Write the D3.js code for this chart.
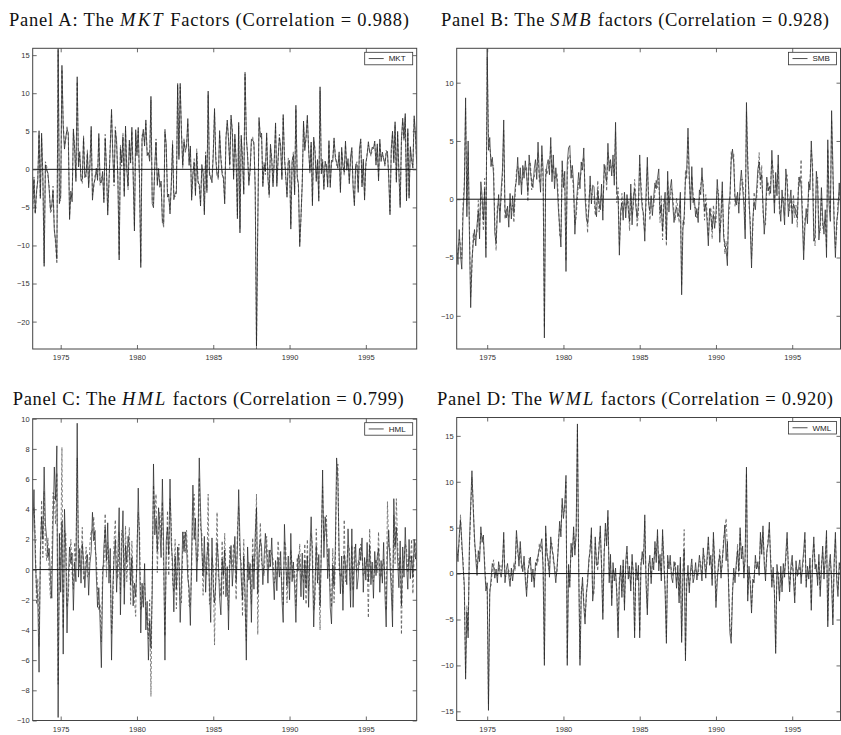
<!DOCTYPE html>
<html>
<head>
<meta charset="utf-8">
<script src="https://cdn.jsdelivr.net/npm/d3@7"></script>
<style>
body { margin: 0; background: #fff; }
svg { display: block; }
</style>
</head>
<body>
<script>
// tick labels
const yearTicks = [1975, 1980, 1985, 1990, 1995];
const mktTicks = [-20, -15, -10, -5, 0, 5, 10, 15];
const smbTicks = [-10, -5, 0, 5, 10];
const hmlTicks = [-10, -8, -6, -4, -2, 0, 2, 4, 6, 8, 10];
const wmlTicks = [-15, -10, -5, 0, 5, 10, 15];

// monthly returns, % (panels A and C start Feb 1973, panels B and D start Jan 1973)
const mktSolid = [
  -4.85, -1.30, -5.67, -2.87, -1.54, 5.07, -3.82, 4.75, -0.84, -12.75, 0.61,
  -0.17, -0.47, -2.81, -5.29, -4.68, -2.83, -8.05, -9.35, -11.77, 15.9, -4.51, -3.45,
  13.66, 5.56, 2.66, 4.23, 5.19, 4.83, -6.59, -2.85, -4.26, 5.31, 2.64, -1.60,
  12.16, 0.32, 2.32, -1.49, -1.34, 4.05, -1.09, -0.55, 2.08, -2.42, 0.36, 5.65,
  -4.05, -1.95, -1.37, 0.15, -1.45, 4.71, -1.69, -1.75, -0.27, -4.38, 4.00, 0.27,
  -6.01, -1.38, 2.85, 7.88, 1.76, -1.69, 5.11, 3.75, -1.43, -11.91, 2.71, 0.89,
  4.23, -3.56, 5.68, -0.06, -2.21, 3.85, 0.82, 5.53, -0.82, -8.10, 5.21, 1.79,
  5.51, -1.22, -12.90, 3.97, 5.26, 3.06, 6.49, 1.80, 2.19, 1.06, 9.59, -4.52,
  -5.04, 0.57, 3.56, -2.11, 0.11, -2.36, -1.54, -7.04, -7.17, 4.92, 3.35, -3.65,
  -3.24, -5.86, -1.87, 3.27, -3.99, -3.09, -3.19, 11.14, 1.29, 11.30, 4.67, 0.55,
  3.60, 2.59, 2.82, 6.67, 0.52, 3.07, -4.07, -0.50, 0.91, -3.44, 2.16, -1.78,
  -1.92, -4.82, 0.63, -0.51, -5.97, 1.82, -2.74, 10.28, -0.80, -0.84, -1.76, 1.84,
  7.99, 1.22, -0.84, -0.96, 5.09, 1.27, -0.74, -1.02, -4.54, 4.02, 6.48, 3.88,
  0.65, 7.13, 4.88, -1.31, 4.62, 0.93, -6.49, 6.17, -8.35, 4.48, 1.15, -3.27,
  12.47, 4.39, 1.64, -2.11, 0.11, 3.94, 3.85, 3.52, -2.59, -23.24, -7.77, 6.81,
  4.21, 4.75, -2.27, 0.56, -0.29, 4.79, -1.25, -3.31, 3.30, 1.15, -2.29, 1.49,
  6.10, -2.25, 1.51, 4.17, 3.15, -1.34, 7.20, 1.44, -0.76, -3.67, 1.03, 1.16,
  -7.85, 1.11, 1.83, -3.36, 8.42, -1.09, -1.90, -10.15, -6.12, -1.92, 6.35, 2.46,
  4.39, 7.10, 2.45, -0.13, 3.59, -4.78, 4.23, 2.32, -1.59, 1.29, -4.19, 10.84,
  -0.59, 0.93, -2.66, 1.07, 0.30, -2.34, 3.77, -2.38, 1.19, 1.02, 4.13, 1.53,
  0.93, 0.12, 2.30, -3.05, 2.89, 0.31, -0.34, 3.71, -0.12, 1.41, -1.89, 1.65,
  2.87, -2.55, -4.78, 0.68, 0.58, -3.03, 2.77, 4.01, -2.31, 1.34, -4.04, 0.86,
  1.80, 3.63, 2.19, 2.11, 2.90, 2.72, 3.72, 0.55, 3.35, -1.52, 3.96, 1.03,
  2.26, 1.33, 0.73, 2.06, 2.36, -1.14, -5.97, 2.77, 5.01, 0.86, 6.25, -1.70,
  4.99, -0.49, -5.02, 4.04, 6.72, 4.10, 7.33, -4.15, 5.35, -3.80, 2.98, 1.32,
  0.15, 7.04, 4.76, 0.73
];
const mktDashed = [
  -5.2, -1.0, -5.9, -3.3, -1.1, 4.6, -3.5, 4.2, -1.4, -12.3, 1.0,
  0.4, -0.9, -2.3, -5.8, -5.3, -2.2, -7.6, -9.9, -12.4, 15.6, -4.0, -4.1,
  13.1, 6.1, 3.2, 3.7, 5.7, 4.2, -6.1, -3.3, -3.7, 4.8, 3.1, -1.1,
  11.5, 0.9, 1.8, -1.0, -1.9, 4.5, -0.6, -1.0, 2.6, -2.0, 0.9, 5.1,
  -3.4, -2.5, -0.8, -0.4, -1.0, 4.2, -2.1, -1.2, -0.8, -3.9, 4.6, -0.3,
  -5.4, -1.9, 3.4, 7.3, 2.3, -2.2, 5.6, 3.2, -0.9, -11.3, 3.2, 0.4,
  4.8, -3.0, 5.1, 0.5, -2.7, 3.3, 1.3, 5.0, -0.3, -7.5, 4.7, 2.3,
  5.0, -1.8, -12.3, 4.5, 4.8, 3.6, 6.0, 2.4, 1.7, 1.6, 9.1, -4.0,
  -4.5, 0.1, 4.0, -1.6, -0.4, -1.8, -2.0, -6.5, -7.7, 5.4, 2.8, -3.1,
  -3.8, -5.3, -2.3, 3.8, -3.4, -3.6, -2.7, 11.3, 1.8, 10.8, 5.2, 0.1,
  4.1, 2.1, 3.3, 6.1, 1.0, 2.6, -3.6, -1.0, 1.4, -3.0, 2.7, -1.3,
  -2.4, -4.3, 0.1, -0.1, -5.5, 2.3, -3.2, 9.8, -0.3, -1.3, -1.2, 2.3,
  7.5, 1.7, -0.4, -1.4, 4.6, 1.8, -0.2, -1.5, -4.0, 4.5, 6.0, 4.3,
  0.1, 6.6, 5.3, -0.8, 4.1, 1.4, -6.0, 5.7, -7.8, 4.0, 1.6, -2.8,
  12.9, 3.9, 2.1, -1.6, -0.4, 3.5, 4.3, 3.0, -2.1, -23.6, -7.2, 6.3,
  4.7, 4.3, -1.8, 1.0, -0.7, 4.3, -0.8, -3.7, 2.8, 1.6, -1.8, 1.0,
  5.6, -1.8, 1.1, 4.6, 2.7, -0.9, 6.7, 1.9, -1.2, -3.2, 1.5, 0.7,
  -7.3, 0.7, 2.3, -2.9, 7.9, -0.6, -2.4, -9.7, -6.6, -1.4, 5.9, 2.9,
  3.9, 6.6, 2.9, -0.6, 3.1, -4.3, 3.8, 2.8, -1.1, 0.8, -3.7, 10.3,
  -0.1, 1.4, -2.2, 0.6, 0.8, -1.9, 3.3, -1.9, 0.7, 1.5, 3.7, 2.0,
  0.5, 0.6, 1.8, -2.6, 2.4, 0.8, -0.8, 3.2, 0.4, 0.9, -1.4, 1.2,
  2.4, -2.1, -4.3, 0.2, 1.0, -2.6, 2.3, 3.6, -1.9, 0.9, -3.6, 0.4,
  2.2, 3.2, 2.6, 1.7, 2.5, 3.1, 3.3, 1.0, 2.9, -1.1, 3.5, 1.5,
  1.8, 1.7, 0.3, 2.5, 1.9, -0.7, -5.5, 2.3, 4.6, 1.3, 5.8, -1.3,
  4.5, -0.1, -4.6, 3.6, 6.3, 3.7, 6.9, -3.7, 4.9, -3.4, 2.5, 0.9,
  0.6, 6.6, 4.3, 1.1
];

const smbSolid = [
  -3.9, -5.6, -2.6, -4.8, -6.0, -1.2, 0.8, 8.7, -1.5, 5.0, -3.0, -9.3,
  -5.2, -3.8, -2.6, -4.0, -2.2, -1.0, -3.4, 1.5, 0.3, -1.8, 0.9, -5.0,
  12.9, 4.2, 5.3, 2.8, 3.6, 2.1, -2.9, -3.8, -1.2, 0.4, -2.0, 0.8,
  2.5, 6.8, -0.9, -1.6, -0.6, -2.4, 0.5, -1.7, 0.3, -1.2, 1.0, 1.6,
  3.6, 1.2, 2.7, 0.4, 2.9, 1.8, 3.3, 2.0, 0.6, 3.8, 2.4, 1.5,
  1.0, 2.6, 3.4, 1.7, 4.9, 2.2, 0.6, 4.6, 2.5, -11.9, 1.8, 2.9,
  3.4, 2.1, 5.3, 1.5, 3.8, 0.9, 2.7, 1.4, -0.8, -2.3, -4.1, 3.3,
  1.0, 2.4, -6.2, 3.1, 4.4, 4.6, 1.8, 2.9, 1.3, -3.0, -0.7, 0.9,
  2.3, 0.9, 3.2, 2.5, 4.4, 0.2, -1.6, -2.1, -0.9, 2.0, -0.4, 1.2,
  1.1, -0.6, -1.5, 0.8, -0.3, -0.9, 1.3, -1.8, 3.0, 2.1, 1.5, 4.8,
  2.4, 3.4, 2.0, 3.8, 1.2, 6.6, 0.5, 0.2, -4.8, -1.0, -0.3, -1.8,
  0.6, -1.6, 0.4, -0.9, -1.9, 1.3, -2.2, 0.2, 0.9, -0.7, -1.6, -0.3,
  3.8, 0.6, -0.8, -1.2, -3.6, 0.5, 3.6, -0.4, -1.0, 0.3, -1.4, 0.2,
  1.4, 0.9, 1.8, 2.6, -1.2, -0.5, -2.7, -0.8, 0.6, -3.5, 2.4, -1.1,
  0.9, 1.7, -0.4, -2.0, -1.0, -0.7, -1.5, -1.2, 0.6, -8.2, -2.6, -1.4,
  1.7, 2.5, 6.1, 2.2, -0.9, 2.8, -0.3, 0.1, -1.5, -0.8, -2.0, 0.8,
  0.4, 2.7, 0.6, -1.0, -0.4, -1.9, -4.0, -0.8, -1.5, -2.6, -1.3, -2.5,
  -1.2, 1.7, -0.1, -3.7, -1.1, 1.5, -3.2, -3.9, -4.4, -5.7, -0.6, 0.3,
  3.3, 4.3, 3.1, 0.2, -0.5, 0.6, -1.2, 1.3, 2.5, 0.9, -0.5, -3.4,
  8.3, 2.9, 0.3, -2.6, -5.9, -1.8, -0.2, -0.9, 0.8, 2.6, 3.2, 1.7,
  2.1, -0.4, -3.0, -1.4, 1.9, 0.7, 1.1, 0.5, 4.2, 1.7, -1.2, 2.3,
  0.3, 3.8, -0.5, -1.9, 0.8, -0.6, -2.2, 2.6, 1.3, -1.5, -0.2, 0.8,
  -2.1, -0.4, -0.8, -1.3, -1.6, 1.1, 1.9, 1.3, -1.7, -5.2, -2.4, -0.8,
  -2.1, 1.5, 0.8, 5.0, 2.3, -3.6, -3.2, 2.4, 1.1, -3.5, -2.1, 1.0,
  -1.7, -3.0, -0.9, -5.0, 5.1, -0.5, -1.9, 7.6, 2.9, -2.3, -5.0, -1.9,
  -1.1, 1.4, -0.6
];
const smbDashed = [
  -4.8, -4.6, -3.4, -3.9, -5.1, -0.3, 1.4, 7.8, -0.6, 4.1, -2.2, -8.4,
  -6.0, -2.9, -3.5, -3.1, -2.9, -0.1, -2.6, 0.7, -0.5, -2.7, 1.8, -4.2,
  12.2, 5.0, 4.4, 3.5, 2.9, 2.9, -2.1, -4.4, -0.4, -0.4, -1.1, 0.1,
  1.8, 5.9, -1.7, -0.8, -1.3, -1.6, -0.3, -0.9, -0.5, -2.0, 0.3, 2.4,
  2.8, 2.0, 1.9, 1.2, 2.1, 2.7, 2.5, 2.8, -0.2, 3.0, 3.2, 0.8,
  1.8, 1.9, 2.6, 2.5, 4.0, 1.5, 1.4, 3.8, 1.7, -11.0, 2.6, 2.1,
  2.6, 2.9, 4.5, 2.2, 3.0, 1.7, 1.9, 2.2, 0.1, -3.1, -3.3, 2.5,
  1.8, 1.6, -5.3, 2.3, 3.6, 3.8, 2.6, 2.1, 0.5, -2.2, -1.5, 0.1,
  1.5, 1.7, 2.4, 3.3, 3.6, 1.0, -0.8, -2.9, -0.1, 1.2, 0.4, 0.4,
  0.3, -1.4, -0.7, 1.6, -1.1, -0.1, 0.5, -1.0, 2.2, 2.9, 0.7, 4.0,
  3.2, 2.6, 2.8, 3.0, 2.0, 5.8, -0.3, 1.0, -4.0, -1.8, 0.5, -1.0,
  -0.2, -0.8, -0.4, -0.1, -2.7, 0.5, -1.4, -0.6, 1.7, 0.1, -2.4, -1.1,
  3.0, 1.4, 0.0, -2.0, -2.8, -0.3, 2.8, 0.4, -1.8, -0.5, -0.6, -0.6,
  0.6, 1.7, 1.0, 1.8, -2.0, 0.3, -3.5, 0.0, -0.2, -4.0, 1.6, -0.3,
  0.1, 0.9, 0.4, -1.2, -1.8, 0.1, -0.7, -2.0, -0.2, -7.4, -1.8, -2.2,
  2.5, 1.7, 5.3, 1.4, -0.1, 2.0, 0.5, -0.7, -0.7, -1.6, -1.2, 0.0,
  1.2, 1.9, 1.4, -1.8, 0.4, -1.1, -3.2, -1.6, -0.7, -3.4, -0.5, -1.7,
  -2.0, 0.9, 0.7, -2.9, -1.9, 0.7, -2.4, -4.7, -3.6, -4.9, -1.4, -0.5,
  4.1, 3.5, 3.9, -0.6, 0.3, -0.2, -0.4, 0.5, 1.7, 1.7, 0.3, -2.6,
  7.5, 3.7, -0.5, -1.8, -5.1, -2.6, 0.6, -0.1, 0.0, 1.8, 4.0, 0.9,
  2.9, -1.2, -2.2, -2.2, 1.1, 1.5, 0.3, 1.3, 3.4, 2.5, -0.4, 1.5,
  1.1, 3.0, -1.3, -1.1, 0.0, 0.2, -1.4, 1.8, 2.1, -0.7, -1.0, 0.0,
  -1.3, 0.4, -1.6, -0.5, -2.4, 1.9, 1.1, 3.4, -0.9, -4.4, -1.6, -1.6,
  -1.3, 0.7, 1.6, 4.2, 3.1, -2.8, -4.0, 1.6, 1.9, -2.7, -2.9, 0.2,
  -2.5, -2.2, -1.7, -4.2, 4.3, 0.3, -1.1, 6.8, 2.1, -1.5, -4.2, -2.7,
  -0.3, 0.6, 0.2
];

const hmlSolid = [
  2.5, 5.3, 0.9, -1.2, -1.9, -6.8, 1.2, 3.5, 2.0, 6.8, 3.0,
  2.1, 0.8, 1.4, -0.5, -1.9, 2.9, 6.8, 4.6, 8.2, -9.8, 2.4, -1.5,
  3.2, -5.6, 4.0, 1.2, -4.2, -0.6, 1.5, 0.4, 1.1, -2.7, 0.5, -0.8,
  9.7, -0.5, 1.4, -0.9, 1.7, 0.6, -1.2, 0.3, 1.0, -1.7, 0.4, 1.2,
  3.8, 1.9, 2.6, -0.3, -2.5, -1.2, -3.5, -6.5, -1.0, 1.5, 2.8, 0.6,
  3.1, -0.9, 1.4, -6.0, -1.2, 0.8, 2.0, -1.5, 0.9, 4.1, -3.0, 1.2,
  3.9, -2.3, 1.6, 0.5, 2.2, 1.5, -1.0, 0.8, -2.4, -0.9, -1.8, 0.4,
  5.4, 1.3, -4.2, -0.9, -2.5, 0.4, -4.0, -2.1, -6.0, -3.4, -5.2, -1.5,
  7.0, 2.3, 3.4, 1.2, 4.1, 2.6, 0.8, 6.0, 1.4, -6.0, 1.9, 2.8,
  1.0, 6.0, 1.7, 0.5, -2.8, 0.9, -1.3, 1.5, 0.4, -3.5, -0.8, 2.5,
  1.2, 2.5, 1.5, -0.6, -1.2, -3.7, 1.1, 5.6, 2.0, 3.4, -0.8, 1.9,
  7.4, 4.0, 1.3, -0.4, 2.2, -1.5, 0.9, 1.8, -1.0, -3.5, 2.1, -1.3,
  -2.2, -0.9, 1.8, 0.6, -1.9, -3.0, 0.7, -0.4, 1.3, -1.8, 0.2, -4.0,
  0.3, 1.6, -1.1, 0.5, 2.2, -0.8, 1.4, 5.3, 1.9, -0.6, -2.0, 0.9,
  -1.4, -6.0, 1.5, -0.7, 0.4, -3.5, 0.9, -1.3, 2.3, 4.1, -1.6, 1.2,
  2.0, 1.5, -1.0, 0.8, 2.4, 1.1, -0.9, 1.3, 0.2, 2.1, -0.4, -2.0,
  0.6, -1.4, 0.8, -0.5, 1.2, -1.9, -3.5, 3.0, 0.4, -1.1, 0.9, -2.0,
  2.4, -0.8, 0.5, -1.2, -3.5, -0.3, 1.0, 0.4, -1.8, 1.1, -2.0, 0.6,
  -1.2, 0.9, -2.5, 1.3, 3.5, 0.5, -3.8, -1.0, 1.6, -0.9, 1.0, -2.4,
  1.2, 6.6, 0.8, 3.5, 2.5, -0.6, 1.4, -2.5, -3.6, 0.3, -1.1, 1.4,
  7.4, 5.9, 1.1, -1.6, 0.9, -2.7, 1.0, 0.3, -1.0, 2.7, 0.4, -2.5,
  2.7, -2.5, 0.4, 1.7, -1.3, -0.5, 1.4, 0.6, 2.1, -1.5, 0.8, -0.7,
  1.8, -0.8, 1.6, -1.0, 0.5, -1.9, 1.2, -0.4, 0.9, 1.4, -1.5, 0.6,
  -0.9, 1.8, -1.6, -3.8, 1.1, 2.6, 0.4, -1.4, -3.8, 4.7, 1.5, 2.8,
  0.6, -1.2, 1.9, -2.4, 1.5, -0.5, 2.8, 0.3, -1.3, 2.0, -0.6, 0.9,
  -0.5, 2.0, 0.7, 1.3
];
const hmlDashed = [
  3.6, 4.1, 2.2, -2.3, -0.6, -5.1, 0.3, 4.6, 0.8, 5.2, 1.6,
  0.6, 2.1, -0.4, -1.9, 0.5, 5.1, 4.9, 3.0, 6.4, -7.6, 0.8, 0.3,
  8.1, -3.9, 2.6, 2.4, -2.5, -1.8, 0.4, 2.0, -0.3, -1.3, 1.8, 0.5,
  7.4, 1.1, 0.2, 0.4, 2.8, -0.7, -0.3, 1.5, -0.5, -0.4, 1.7, 2.6,
  2.4, 3.5, 1.3, 0.9, -1.4, -2.7, -2.3, -4.8, 0.3, 0.2, 3.7, -0.5,
  1.8, 0.5, 0.1, -4.3, -2.6, 1.9, 3.3, -0.3, -0.6, 2.5, -1.6, 2.6,
  2.4, -1.2, 2.9, -0.8, 1.0, 2.8, -2.3, 1.9, -0.8, -2.0, -3.1, 1.7,
  3.8, 2.7, -2.7, -2.2, -1.1, -0.9, -2.6, -3.4, -4.6, -2.0, -8.4, -0.2,
  5.6, 3.5, 5.0, -0.2, 2.7, 3.8, 2.1, 4.5, 0.1, -4.4, 0.5, 3.9,
  -0.4, 4.7, 2.9, -0.8, -1.5, 2.0, -2.6, 0.3, 1.7, -2.1, -2.2, 1.2,
  2.5, 1.1, 2.6, 0.6, -2.4, -2.5, -0.2, 4.3, 5.0, 1.9, 0.5, 0.7,
  6.1, 2.7, 2.5, -1.7, 1.0, 0.2, -0.4, 5.0, -2.3, -2.1, 0.8, 0.1,
  -5.0, 0.4, 3.8, -0.6, -0.7, -1.8, 1.9, -1.7, 2.4, -0.6, -1.2, -2.7,
  1.5, 0.4, 0.2, 1.7, 0.9, -2.0, 2.6, 4.2, 0.7, 0.6, -3.1, 2.0,
  -2.6, -4.7, 0.3, 0.5, -0.8, -2.3, 2.1, -0.2, 1.1, 5.0, -4.3, 0.1,
  3.1, 0.4, 0.2, -0.4, 1.3, 2.2, 0.2, 0.1, 1.3, 1.0, 0.7, -0.9,
  -0.5, -0.3, 1.9, 0.6, 0.1, -0.8, -2.4, 1.9, 1.5, -2.2, -0.2, -0.9,
  1.3, 0.3, -0.6, -0.1, -2.4, 0.8, -0.1, 1.7, -0.6, -0.1, -0.9, 1.7,
  -2.3, 2.0, -1.4, 0.2, 2.4, 1.6, -2.7, -2.1, 2.7, 0.2, -0.1, -4.0,
  2.3, 5.5, 1.9, 2.4, 3.6, 0.5, 0.3, -1.4, -2.5, 1.4, -2.2, 0.3,
  6.3, 7.0, 0.0, -0.5, -0.2, -1.6, 3.3, -0.8, 0.1, 1.6, 1.5, -1.4,
  1.6, -1.4, 1.5, 0.6, -0.2, 0.6, 0.3, 1.7, 1.0, -0.4, -0.3, 0.4,
  0.7, -3.2, 2.7, 0.1, -0.6, -0.8, 0.1, 0.7, -0.2, 2.5, -0.4, -0.5,
  0.2, 0.7, -0.5, -2.7, 4.5, 1.5, 1.5, -0.3, -2.7, 3.6, 0.4, 4.7,
  1.7, -0.1, 0.8, -4.3, 0.4, 0.6, 1.7, 1.4, -0.2, 0.9, 0.5, 2.0,
  -1.6, 0.9, 1.8, 0.2
];

const wmlSolid = [
  2.9, 1.3, 4.2, 5.8, 3.6, 0.8, -1.2, -11.5, -4.2, -7.0, 3.2, 7.5,
  11.2, 7.1, 4.0, 1.6, -0.2, 2.5, 1.3, 5.1, 3.4, 4.2, 0.6, -1.9,
  -1.0, -14.9, -2.3, -0.6, 1.1, 0.8, -0.5, 0.5, -1.0, 1.3, 0.2, -0.4,
  0.7, 4.5, -1.0, 0.4, 1.1, -0.3, -1.4, 0.6, -0.8, 0.5, 1.0, 4.7,
  2.9, 0.8, 3.5, 1.2, 0.2, 1.9, -0.7, -2.5, 0.4, 1.0, 1.8, -0.9,
  0.5, -1.5, 1.2, 0.9, 2.0, 2.6, 3.1, 3.8, 0.4, -10.0, 5.2, 2.0,
  1.5, -0.4, 4.0, 2.6, 2.0, 0.3, -1.0, 0.8, 2.9, 5.7, 4.0, 8.2,
  6.0, 7.5, 10.7, -10.0, 1.0, -1.5, 3.3, 1.8, 5.1, 2.0, 4.6, 16.3,
  0.5, -10.0, -2.5, -0.4, -3.6, -5.5, -2.1, -1.0, 1.6, 2.4, 5.0, -3.0,
  -1.5, 4.0, 0.9, 1.0, 2.7, 5.2, 0.5, -5.0, 1.8, 5.5, 3.0, 6.9,
  -1.0, 2.1, -3.5, 1.2, -0.8, 0.6, -2.4, -7.0, -1.1, 0.9, -2.6, 1.5,
  -4.0, 1.4, 3.0, -0.6, 0.8, -1.9, 2.1, -0.4, -7.0, 1.2, -0.7, 0.9,
  -7.0, 0.8, 2.4, 1.0, 6.4, -1.2, -4.5, 0.6, 2.0, -1.1, 1.7, 0.4,
  3.5, 1.2, 4.8, 0.3, 2.1, -0.8, 4.8, 1.1, -2.0, -7.6, 2.0, 0.5,
  2.0, -0.4, -1.0, 1.3, 0.6, -1.6, 0.9, -3.2, 1.8, -7.5, -0.6, 2.6,
  -9.5, -1.2, 0.9, -2.1, 0.4, 1.6, -1.0, -0.3, 1.2, -0.7, 0.5, 2.0,
  0.6, -0.8, 2.8, 1.1, -0.5, 1.8, 4.0, 0.9, 2.0, -1.3, 4.5, 1.0,
  -3.7, -0.9, 1.2, 2.0, -0.5, 1.6, 3.1, 5.3, 1.4, 3.5, -1.8, -6.5,
  -7.6, -2.4, 0.6, -1.0, 1.2, 2.5, 0.3, 5.0, 1.6, 3.0, -0.5, 2.1,
  11.6, -3.0, 0.8, -1.2, -4.3, -0.6, -1.0, 2.0, 0.5, 1.3, -0.2, 4.5,
  2.1, 5.2, 1.0, -0.8, 2.5, 3.2, 5.6, 1.3, -1.5, 0.7, -2.2, -8.7,
  1.0, -0.5, -3.0, 0.8, -2.0, 1.1, -0.4, 2.2, 4.5, 0.3, -2.0, 0.9,
  2.0, -0.7, -3.2, 1.4, -0.3, 0.6, 1.5, -1.1, 0.9, 2.4, 4.5, -1.5,
  0.8, -0.6, 1.7, -4.0, 1.2, 4.0, 0.5, 1.0, -1.3, 2.1, -2.5, 0.4,
  3.0, -0.6, 1.8, 4.7, -5.8, 0.9, 2.1, -1.0, -5.6, 1.4, 4.5, -0.8,
  -2.5, 1.2, 0.5
];
const wmlDashed = [
  2.2, 2.0, 3.5, 6.4, 2.9, 1.5, -1.9, -10.8, -3.5, -6.3, 2.5, 6.8,
  10.5, 7.8, 3.3, 2.3, 0.5, 1.8, 2.0, 4.4, 4.1, 3.5, 1.3, -1.2,
  -1.7, -14.2, -1.6, -1.3, 0.4, 1.5, 0.2, -0.2, -0.3, 0.6, 0.9, 0.3,
  1.4, 3.8, -0.3, -0.3, 0.4, 0.4, -0.7, -0.1, -0.1, 1.2, 0.3, 4.0,
  2.2, 1.5, 2.8, 0.5, 0.9, 1.2, 0.0, -1.8, -0.3, 1.7, 1.1, -0.2,
  -0.2, -0.8, 0.5, 1.6, 1.3, 3.3, 2.4, 3.1, 1.1, -9.3, 4.5, 2.7,
  0.8, 0.3, 3.3, 3.3, 1.3, 1.0, -0.3, 0.1, 3.6, 5.0, 4.7, 7.5,
  6.7, 6.8, 10.0, -9.3, 0.3, -0.8, 2.6, 2.5, 4.4, 2.7, 3.9, 15.6,
  1.2, -9.3, -1.8, -1.1, -2.9, -4.8, -2.8, -0.3, 0.9, 3.1, 4.3, -2.3,
  -2.2, 3.3, 1.6, 0.3, 3.4, 4.5, 1.2, -4.3, 2.5, 4.8, 3.7, 6.2,
  -0.3, 1.4, -2.8, 0.5, -0.1, -0.1, -1.7, -6.3, -0.4, 0.2, -1.9, 0.8,
  -3.3, 0.7, 2.3, 0.1, 0.1, -1.2, 1.4, 0.3, -6.3, 0.5, 0.0, 0.2,
  -6.3, 1.5, 1.7, 1.7, 5.7, -0.5, -3.8, 1.3, 1.3, -0.4, 1.0, 1.1,
  2.8, 1.9, 4.1, 1.0, 1.4, -0.1, 4.1, 1.8, -1.3, -6.9, 1.3, 1.2,
  1.3, 0.3, -0.3, 0.6, 1.3, -0.9, 0.2, -2.5, 1.1, -6.8, 0.1, 4.8,
  -8.8, -0.5, 0.2, -1.4, -0.3, 0.9, -0.3, 0.4, 0.5, 0.0, -0.2, 1.3,
  1.3, -0.1, 2.1, 1.8, 0.2, 1.1, 3.3, 1.6, 1.3, -0.6, 3.8, 1.7,
  -3.0, -0.2, 0.5, 2.7, 0.2, 0.9, 3.8, 4.6, 6.0, 2.8, -1.1, -5.8,
  -6.9, -1.7, -0.1, -0.3, 0.5, 3.2, -0.4, 4.3, 2.3, 2.3, 0.2, 1.4,
  10.9, -2.3, 0.1, -0.5, -3.6, -1.3, -0.3, 1.3, 1.2, 0.6, 0.5, 3.8,
  2.8, 4.5, 1.7, -0.1, 1.8, 3.9, 4.9, 2.0, -0.8, 0.0, -1.5, -8.0,
  0.3, 0.2, -2.3, 0.1, -1.3, 0.4, 0.3, 1.5, 3.8, 1.0, -1.3, 0.2,
  1.3, 0.0, -2.5, 0.7, 0.4, -0.1, 0.8, -0.4, 0.2, 1.7, 3.8, -0.8,
  0.1, 0.1, 1.0, -3.3, 1.9, 3.3, 1.2, 0.3, -0.6, 1.4, -1.8, 1.1,
  2.3, 0.1, 1.1, 4.0, -5.1, 0.2, 1.4, -0.3, -4.9, 0.7, 3.8, -0.1,
  -1.8, 0.5, 1.2
];

const svg = d3.select("body").append("svg")
    .attr("width", 841)
    .attr("height", 735);

const panels = [
  { title: ["Panel A: The ", "MKT", " Factors (Correlation = 0.988)"], tx: 9, tw: 400, ty: 25.5,
    frame: [32.7, 48.3, 416.7, 349], start: 1973 + 2 / 12, yDomain: [-23.6, 15.9],
    yTicks: mktTicks, legend: "MKT", solid: mktSolid, dashed: mktDashed },
  { title: ["Panel B: The ", "SMB", " factors (Correlation = 0.928)"], tx: 441, tw: 388, ty: 25.5,
    frame: [456.7, 48.3, 840.5, 349], start: 1973, yDomain: [-12.85, 12.95],
    yTicks: smbTicks, legend: "SMB", solid: smbSolid, dashed: smbDashed },
  { title: ["Panel C: The ", "HML", " factors (Correlation = 0.799)"], tx: 12.7, tw: 391, ty: 405,
    frame: [32.7, 418.7, 416.7, 720.5], start: 1973 + 2 / 12, yDomain: [-10, 10],
    yTicks: hmlTicks, legend: "HML", solid: hmlSolid, dashed: hmlDashed },
  { title: ["Panel D: The ", "WML", " factors (Correlation = 0.920)"], tx: 437, tw: 396, ty: 405,
    frame: [456.7, 417.5, 840.5, 720.5], start: 1973, yDomain: [-16, 17],
    yTicks: wmlTicks, legend: "WML", solid: wmlSolid, dashed: wmlDashed }
];

panels.forEach((p, k) => {
  const [l, t, r, b] = p.frame;
  const n = p.solid.length;

  const x = d3.scaleLinear()
      .domain([p.start, p.start + (n - 1) / 12])
      .range([l, r]);
  const y = d3.scaleLinear()
      .domain(p.yDomain)
      .range([b, t]);

  // title (LaTeX-style, math part in italics)
  const title = svg.append("text")
      .attr("x", p.tx)
      .attr("y", p.ty)
      .attr("font-family", "'Liberation Serif', 'DejaVu Serif', serif")
      .attr("font-size", 18.5)
      .attr("fill", "#111");
  title.append("tspan").text(p.title[0]);
  title.append("tspan").attr("font-style", "italic").attr("letter-spacing", 1.5).text(p.title[1]);
  title.append("tspan").text(p.title[2]);
  title.attr("textLength", p.tw).attr("lengthAdjust", "spacing");

  svg.append("clipPath").attr("id", "clip" + k)
    .append("rect")
      .attr("x", l).attr("y", t)
      .attr("width", r - l).attr("height", b - t);

  const g = svg.append("g").attr("clip-path", `url(#clip${k})`);

  const line = d3.line()
      .x((d, i) => x(p.start + i / 12))
      .y(d => y(d));

  g.append("path")
      .datum(p.dashed)
      .attr("fill", "none")
      .attr("stroke", "#555")
      .attr("stroke-width", 0.75)
      .attr("stroke-dasharray", "3,2")
      .attr("d", line);

  g.append("path")
      .datum(p.solid)
      .attr("fill", "none")
      .attr("stroke", "#222")
      .attr("stroke-width", 0.7)
      .attr("d", line);

  // zero line
  g.append("line")
      .attr("x1", l).attr("x2", r)
      .attr("y1", y(0)).attr("y2", y(0))
      .attr("stroke", "#111")
      .attr("stroke-width", 1);

  // axes, ticks pointing inward on all four sides
  const tickFont = g => g.selectAll("text")
      .attr("font-family", "'Liberation Sans', Arial, sans-serif")
      .attr("font-size", 7.5)
      .attr("fill", "#333");

  svg.append("g")
      .attr("transform", `translate(0,${b})`)
      .call(d3.axisBottom(x).tickValues(yearTicks).tickFormat(d3.format("d")).tickSize(-4).tickSizeOuter(0).tickPadding(6))
      .call(tickFont);
  svg.append("g")
      .attr("transform", `translate(0,${t})`)
      .call(d3.axisTop(x).tickValues(yearTicks).tickFormat("").tickSize(-4).tickSizeOuter(0));
  svg.append("g")
      .attr("transform", `translate(${l},0)`)
      .call(d3.axisLeft(y).tickValues(p.yTicks).tickFormat(d3.format("d")).tickSize(-4).tickSizeOuter(0).tickPadding(3))
      .call(tickFont);
  svg.append("g")
      .attr("transform", `translate(${r},0)`)
      .call(d3.axisRight(y).tickValues(p.yTicks).tickFormat("").tickSize(-4).tickSizeOuter(0));

  svg.selectAll(".domain").remove();
  svg.selectAll(".tick line").attr("stroke", "#444").attr("stroke-width", 0.8);

  svg.append("rect")
      .attr("x", l).attr("y", t)
      .attr("width", r - l).attr("height", b - t)
      .attr("fill", "none")
      .attr("stroke", "#444")
      .attr("stroke-width", 1);

  // legend
  const lg = svg.append("g").attr("transform", `translate(${r - 52},${t + 4})`);
  lg.append("rect")
      .attr("width", 48).attr("height", 12.5)
      .attr("fill", "#fff")
      .attr("stroke", "#333")
      .attr("stroke-width", 0.8);
  lg.append("line")
      .attr("x1", 4).attr("x2", 19)
      .attr("y1", 6.25).attr("y2", 6.25)
      .attr("stroke", "#222")
      .attr("stroke-width", 0.8);
  lg.append("text")
      .attr("x", 24).attr("y", 9.2)
      .attr("font-family", "'Liberation Sans', Arial, sans-serif")
      .attr("font-size", 8)
      .attr("fill", "#222")
      .text(p.legend);
});
</script>
</body>
</html>
